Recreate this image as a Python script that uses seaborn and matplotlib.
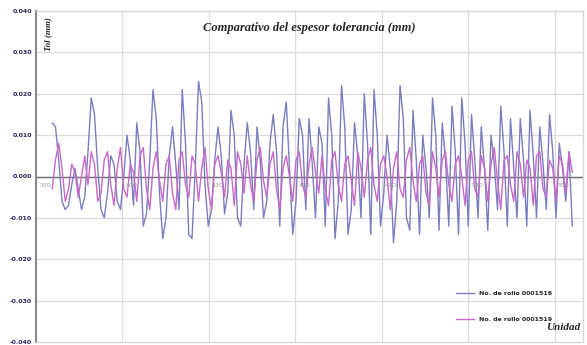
import numpy as np
import pandas as pd
import matplotlib
matplotlib.use("Agg")
import matplotlib.pyplot as plt
import seaborn as sns

# values in mm (in thousandths)
rollo_1516 = [13, 12, 4, -6, -8, -7, -2, 2, -3, -8,
              -5, 6, 19, 15, 2, -8, -10, -4, 5, 3,
              -6, -8, 0, 10, 4, -7, 13, 6, -12, -9,
              4, 21, 14, -4, -15, -10, 5, 12, 3, -8,
              21, 8, -14, -15, 2, 23, 18, -2, -12, -8,
              4, 12, 5, -9, -4, 16, 10, -10, -12, 3,
              13, 6, -8, 12, 4, -10, -6, 8, 15, 6,
              -12, 12, 18, 2, -14, -6, 14, 10, -8, 14,
              3, -10, 12, 8, -12, 19, 10, -15, -6, 22,
              12, -14, -8, 13, 5, -10, 20, 8, -14, 21,
              10, -12, -4, 10, 2, -16, -6, 22, 14, -10,
              -13, 16, 4, -14, 10, 2, -10, 19, 10, -13,
              13, 4, -12, 17, 6, -14, 19, 8, -12, 15,
              4, -10, 12, 2, -13, 10, 3, -8, 17, 6,
              -12, 14, 2, -10, 14, 4, -12, 16, 5, -10,
              12, 3, -8, 15, 6, -10, 8, 2, -6, 6,
              -12]
rollo_1519 = [-3, 4, 8, 2, -6, -3, 3, 1, -5, 0,
              5, -2, 6, 3, -6, -4, 4, 6, -2, -7,
              2, 7, -3, -5, 3, 1, -6, 5, 7, -3,
              -8, 2, 6, -1, -6, 3, 5, -4, -8, 4,
              6, -2, -5, 5, 3, -6, 2, 7, -3, -8,
              3, 5, 1, -5, 4, 2, -7, 6, 3, -4,
              5, -2, -6, 4, 7, -1, -5, 3, 6, -3,
              -8, 2, 5, 0, -6, 4, 6, -2, -5, 3,
              7, 1, -4, 5, -3, -7, 4, 6, -2, -6,
              3, 5, -1, -7, 6, 2, -5, 4, 7, -2,
              -6, 3, 5, 0, -8, 2, 6, -3, -5, 4,
              7, -1, -6, 3, 5, -4, -7, 6, 2, -5,
              4, 6, -2, -6, 3, 5, 0, -7, 4, 6,
              -3, -5, 5, 2, -6, 3, 7, -1, -8, 4,
              5, -2, -6, 6, 3, -5, 4, 2, -7, 5,
              6, -3, -5, 4, 2, -6, 5, 3, -4, 6,
              1]
series_names = ["No. de rollo 0001516", "No. de rollo 0001519"]
x_tick_labels = ["370", "400", "430", "460", "490", "520", "550"]
y_ticks = [-0.040, -0.030, -0.020, -0.010, 0.000, 0.010, 0.020, 0.030, 0.040]

offset = 5
df = pd.concat([
    pd.DataFrame({"Unidad": np.arange(len(rollo_1516)) + offset,
                  "Tol": np.array(rollo_1516) / 1000.0, "serie": series_names[0]}),
    pd.DataFrame({"Unidad": np.arange(len(rollo_1519)) + offset,
                  "Tol": np.array(rollo_1519) / 1000.0, "serie": series_names[1]}),
])

sns.set_style("white")
fig = plt.figure(figsize=(5.87, 3.45), dpi=100)
ax = fig.add_axes([36 / 587, 3 / 345, 547 / 587, 331 / 345])

palette = {series_names[0]: "#7c7cc0", series_names[1]: "#c868c8"}
sns.lineplot(data=df, x="Unidad", y="Tol", hue="serie", palette=palette,
             linewidth=1.0, ax=ax, legend=False)

ax.set_xlim(0, 168.3)
ax.set_ylim(-0.040, 0.040)
ax.set_yticks(y_ticks)
ax.set_yticklabels([f"{v:.3f}" for v in y_ticks], fontsize=4.5,
                   fontweight="bold", color="#2a2a5a")
xt = [i * 26.6 for i in range(len(x_tick_labels))]
ax.set_xticks(xt)
ax.set_xticklabels([])
ax.tick_params(axis="both", length=0, pad=3)
ax.grid(True, color="#dcdcdc", linewidth=0.9)
ax.axhline(0, color="#707070", linewidth=1.0, zorder=1.5)
for pos, lab in zip(xt, x_tick_labels):
    ax.text(pos + 1.0, -0.0022, lab, fontsize=4.5, color="#9a9a9a",
            ha="left", va="center")

for s in ["top", "right", "bottom"]:
    ax.spines[s].set_color("#d8d8d8")
    ax.spines[s].set_linewidth(1.0)
ax.spines["left"].set_color("#8a8a8a")
ax.spines["left"].set_linewidth(1.5)

ax.set_xlabel("")
ax.set_ylabel("")
ax.text(0.5, 0.95, "Comparativo del espesor tolerancia (mm)",
        transform=ax.transAxes, ha="center", va="center",
        fontsize=9, fontweight="bold", fontstyle="italic",
        family="Liberation Serif")
ax.text(0.022, 0.93, "Tol (mm)", transform=ax.transAxes, rotation=90,
        ha="center", va="center", fontsize=6.5, fontweight="bold",
        fontstyle="italic", family="Liberation Serif")
ax.text(0.995, 0.045, "Unidad", transform=ax.transAxes, ha="right",
        va="center", fontsize=8, fontweight="bold", fontstyle="italic",
        family="Liberation Serif")

handles = [plt.Line2D([], [], color=palette[n], linewidth=1.0) for n in series_names]
leg = ax.legend(handles, series_names, loc="upper left",
                bbox_to_anchor=((450 - 36) / 547, (345 - 285 - 3) / 331),
                frameon=False, prop={"size": 4.5, "weight": "bold"},
                labelspacing=3.3, handlelength=3.0, handletextpad=0.8)

fig.savefig("out.png", dpi=100)
